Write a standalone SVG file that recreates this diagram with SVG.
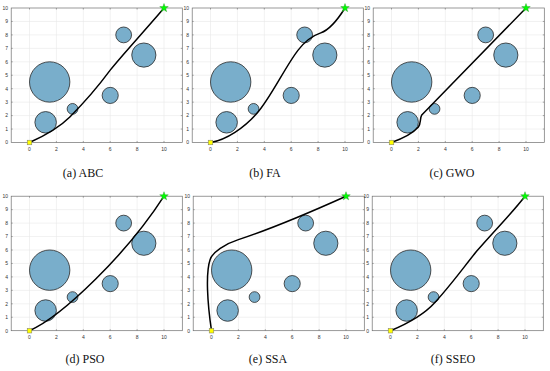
<svg xmlns="http://www.w3.org/2000/svg" xmlns:xlink="http://www.w3.org/1999/xlink" width="550" height="371" viewBox="0 0 550 371">
<style>
.grid{stroke:#e8e8e8;stroke-width:0.6;fill:none}
.box{stroke:#6e6e6e;stroke-width:0.7;fill:none}
.tick{stroke:#6e6e6e;stroke-width:0.6}
.tl{font-family:"Liberation Sans",Arial,sans-serif;font-size:5px;fill:#333}
.obs{fill:#79aecb;stroke:#2a2a2a;stroke-width:0.8}
.route{fill:none;stroke:#000;stroke-width:1.5;vector-effect:non-scaling-stroke;stroke-linejoin:round;stroke-linecap:round}
.cap{font-family:"Liberation Serif","Times New Roman",serif;font-size:12px;fill:#111;text-anchor:middle}
</style>
<defs>
<g id="axes">
  <rect x="-18.3" y="-134.5" width="171.1" height="134.5" fill="#fff"/>
  <g class="grid">
    <path d="M0,0V-134.5M26.9,0V-134.5M53.8,0V-134.5M80.7,0V-134.5M107.6,0V-134.5M134.5,0V-134.5"/>
    <path d="M-18.3,-13.45H152.8M-18.3,-26.9H152.8M-18.3,-40.35H152.8M-18.3,-53.8H152.8M-18.3,-67.25H152.8M-18.3,-80.7H152.8M-18.3,-94.15H152.8M-18.3,-107.6H152.8M-18.3,-121.05H152.8"/>
  </g>
  <path class="tick" d="M-18.3,-13.45h1.5M-18.3,-26.9h1.5M-18.3,-40.35h1.5M-18.3,-53.8h1.5M-18.3,-67.25h1.5M-18.3,-80.7h1.5M-18.3,-94.15h1.5M-18.3,-107.6h1.5M-18.3,-121.05h1.5M152.8,-13.45h-1.5M152.8,-26.9h-1.5M152.8,-40.35h-1.5M152.8,-53.8h-1.5M152.8,-67.25h-1.5M152.8,-80.7h-1.5M152.8,-94.15h-1.5M152.8,-107.6h-1.5M152.8,-121.05h-1.5M0,0v-1.5M26.9,0v-1.5M53.8,0v-1.5M80.7,0v-1.5M107.6,0v-1.5M134.5,0v-1.5M0,-134.5v1.5M26.9,-134.5v1.5M53.8,-134.5v1.5M80.7,-134.5v1.5M107.6,-134.5v1.5M134.5,-134.5v1.5"/>
  <rect class="box" x="-18.3" y="-134.5" width="171.1" height="134.5"/>
  <g class="tl" text-anchor="end">
    <text x="-21.5" y="1.8">0</text>
    <text x="-21.5" y="-11.65">1</text>
    <text x="-21.5" y="-25.1">2</text>
    <text x="-21.5" y="-38.55">3</text>
    <text x="-21.5" y="-52">4</text>
    <text x="-21.5" y="-65.45">5</text>
    <text x="-21.5" y="-78.9">6</text>
    <text x="-21.5" y="-92.35">7</text>
    <text x="-21.5" y="-105.8">8</text>
    <text x="-21.5" y="-119.25">9</text>
    <text x="-21.5" y="-132.7">10</text>
  </g>
  <g class="tl" text-anchor="middle">
    <text x="0" y="8.5">0</text>
    <text x="26.9" y="8.5">2</text>
    <text x="53.8" y="8.5">4</text>
    <text x="80.7" y="8.5">6</text>
    <text x="107.6" y="8.5">8</text>
    <text x="134.5" y="8.5">10</text>
  </g>
  <g id="obstacles">
    <circle class="obs" cx="20.18" cy="-60.53" r="20.18"/>
    <circle class="obs" cx="16.14" cy="-20.18" r="10.76"/>
    <circle class="obs" cx="43.04" cy="-33.63" r="5.38"/>
    <circle class="obs" cx="80.7" cy="-47.08" r="8.07"/>
    <circle class="obs" cx="94.15" cy="-107.6" r="7.9"/>
    <circle class="obs" cx="114.33" cy="-87.43" r="12.1"/>
  </g>
</g>
<g id="start"><rect x="-2.3" y="-2.3" width="4.6" height="4.6" fill="#ffff00" stroke="#777" stroke-width="0.5"/></g>
<g id="goal"><polygon points="0,-4.5 1.06,-1.46 4.28,-1.39 1.71,0.56 2.65,3.64 0,1.8 -2.65,3.64 -1.71,0.56 -4.28,-1.39 -1.06,-1.46" fill="#00ff00" stroke="#2a8a2a" stroke-width="0.4"/></g>
</defs>
<rect width="550" height="371" fill="#fff"/>

<g id="panel-a" transform="translate(29.5,142.5)">
  <use xlink:href="#axes"/>
  <g class="connectors"><path class="route" transform="scale(13.45,-13.45)" d="M0,0 C1,0.45 2.2,1.1 3,1.9 C3.8,2.7 5.2,4.3 6,5.38 C6.8,6.4 9,8.8 10,10"/></g>
  <use xlink:href="#start"/>
  <use xlink:href="#goal" x="134.5" y="-134.5"/>
</g>
<text class="cap" font-family="Liberation Serif, Times New Roman, serif" x="83" y="177">(a) ABC</text>

<g id="panel-b" transform="translate(210.5,142.5)">
  <use xlink:href="#axes"/>
  <g class="connectors"><path class="route" transform="scale(13.45,-13.45)" d="M0,0 C1.2,0.2 2.5,1.1 3.44,2.16 C4.4,3.2 5.6,5.7 6.5,6.85 C7,7.5 7.6,7.95 8.2,8.15 C8.9,8.4 9.5,9.2 10,10"/></g>
  <use xlink:href="#start"/>
  <use xlink:href="#goal" x="134.5" y="-134.5"/>
</g>
<text class="cap" font-family="Liberation Serif, Times New Roman, serif" x="265" y="177">(b) FA</text>

<g id="panel-c" transform="translate(391.5,142.5)">
  <use xlink:href="#axes"/>
  <g class="connectors"><path class="route" transform="scale(13.45,-13.45)" d="M0,0 C0.7,0.25 1.6,0.7 2,1.15 C2.2,1.4 2.1,1.8 2.25,2.05 L10,10"/></g>
  <use xlink:href="#start"/>
  <use xlink:href="#goal" x="134.5" y="-134.5"/>
</g>
<text class="cap" font-family="Liberation Serif, Times New Roman, serif" x="452" y="177">(c) GWO</text>

<g id="panel-d" transform="translate(29.5,330.7)">
  <use xlink:href="#axes"/>
  <g class="connectors"><path class="route" transform="scale(13.45,-13.45)" d="M0,0 C2.5,1.1 7.3,5.8 10,10"/></g>
  <use xlink:href="#start"/>
  <use xlink:href="#goal" x="134.5" y="-134.5"/>
</g>
<text class="cap" font-family="Liberation Serif, Times New Roman, serif" x="85" y="363">(d) PSO</text>

<g id="panel-e" transform="translate(211.5,330.7)">
  <use xlink:href="#axes"/>
  <g class="connectors"><path class="route" transform="scale(13.45,-13.45)" d="M0,0 C-0.3,2 -0.45,4.3 -0.1,5.3 C0.1,5.87 1,6.45 2,6.77 C4.5,7.6 8,9.1 10,10"/></g>
  <use xlink:href="#start"/>
  <use xlink:href="#goal" x="134.5" y="-134.5"/>
</g>
<text class="cap" font-family="Liberation Serif, Times New Roman, serif" x="268" y="363">(e) SSA</text>

<g id="panel-f" transform="translate(390.5,330.7)">
  <use xlink:href="#axes"/>
  <g class="connectors"><path class="route" transform="scale(13.45,-13.45)" d="M0,0 C1.2,0.5 2.4,1.1 3.3,2.1 C4.5,3.4 5.5,4.8 6.4,5.9 C7.6,7.3 9,8.7 10,10"/></g>
  <use xlink:href="#start"/>
  <use xlink:href="#goal" x="134.5" y="-134.5"/>
</g>
<text class="cap" font-family="Liberation Serif, Times New Roman, serif" x="453" y="363">(f) SSEO</text>
</svg>
